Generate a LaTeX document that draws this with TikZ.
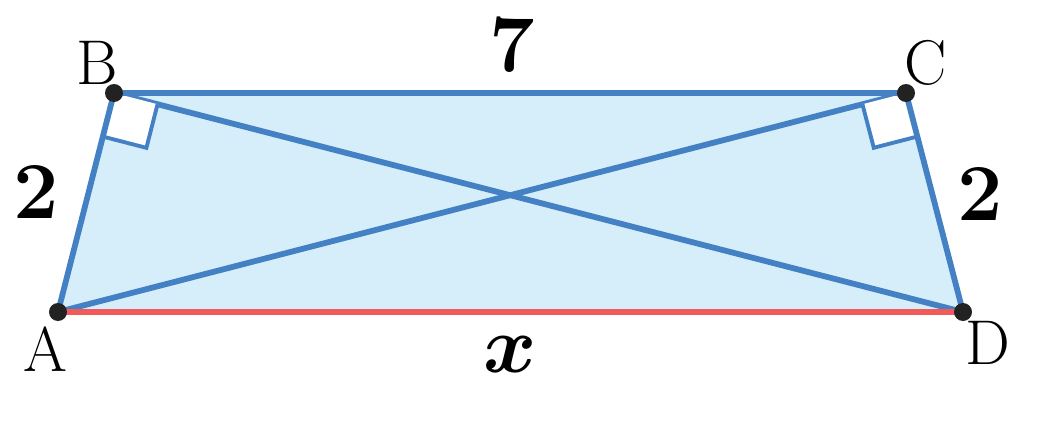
\RequirePackage{fix-cm}
\documentclass[tikz,border=0pt]{standalone}
\usepackage{amsmath}
\usetikzlibrary{calc}
\definecolor{edgeblue}{HTML}{4480C4}
\definecolor{fillblue}{HTML}{D6EDFA}
\definecolor{basered}{HTML}{F05A5A}
\definecolor{dotgray}{HTML}{222222}
\tikzset{
  edge/.style={draw=edgeblue, line width=3.3pt},
  baseedge/.style={draw=basered, line width=3.3pt},
  ramark/.style={draw=edgeblue, fill=white, line width=2.2pt},
  vdot/.style={circle, fill=dotgray, inner sep=0pt, minimum size=0.36cm},
  vlabel/.style={font=\fontsize{36}{42}\selectfont},
  nlabel/.style={font=\fontsize{46}{52}\selectfont\bfseries}
}
\begin{document}
\begin{tikzpicture}[x=0.02cm, y=-0.02cm]
\useasboundingbox (0,0) rectangle (1048,429);
\coordinate (A) at (58,312);
\coordinate (B) at (114,93);
\coordinate (C) at (906,93);
\coordinate (D) at (963,312);
\coordinate (BA) at ($(B)!0.9cm!(A)$);
\coordinate (BD) at ($(B)!0.9cm!(D)$);
\coordinate (BX) at ($(BA)+(BD)-(B)$);
\coordinate (CD) at ($(C)!0.9cm!(D)$);
\coordinate (CA) at ($(C)!0.9cm!(A)$);
\coordinate (CX) at ($(CD)+(CA)-(C)$);
\fill[fillblue] (A) -- (B) -- (C) -- (D) -- cycle;
\draw[edge] (A) -- (C);
\draw[edge] (B) -- (D);
\draw[ramark] (B) -- (BA) -- (BX) -- (BD);
\draw[ramark] (C) -- (CD) -- (CX) -- (CA);
\draw[edge, line join=round] (A) -- (B) -- (C) -- (D);
\draw[baseedge] (A) -- (D);
\node[vdot] (a) at (A) {};
\node[vdot] (b) at (B) {};
\node[vdot] (c) at (C) {};
\node[vdot] (d) at (D) {};
\node[vlabel] (la) at (45,349) {A};
\node[vlabel] (lb) at (97,63) {B};
\node[vlabel] (lc) at (926,63) {C};
\node[vlabel] (ld) at (988,343) {D};
\node[nlabel] (l7) at (512,45) {7};
\node[nlabel] (l2a) at (36,192) {2};
\node[nlabel] (l2b) at (980,194) {2};
\node[font=\fontsize{46}{52}\selectfont] (lx) at (510,355) {$\boldsymbol{x}$};
\end{tikzpicture}
\end{document}
